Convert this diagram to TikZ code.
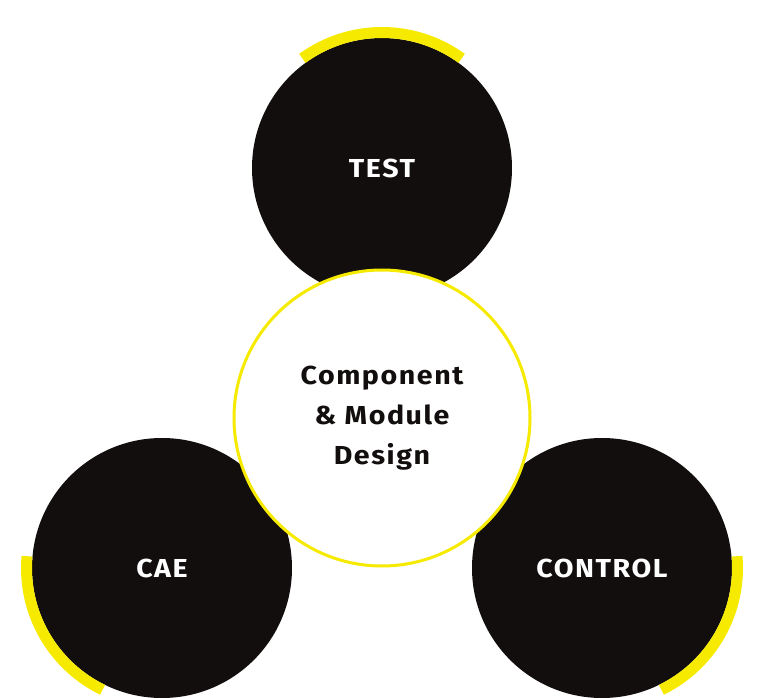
\documentclass[tikz,border=0pt]{standalone}
\usepackage{fontspec}
\setmainfont{Fira Sans}[UprightFont=* Bold,FakeStretch=1.1,LetterSpace=6]
\definecolor{dk}{HTML}{130E0E}
\definecolor{yl}{HTML}{F5EA00}
\begin{document}
\begin{tikzpicture}[x=1pt,y=-1pt,
  bigc/.style={circle,fill=dk,minimum size=260pt,inner sep=0pt,text=white,font=\fontsize{26}{30}\selectfont},
  midc/.style={circle,fill=white,draw=yl,line width=3pt,minimum size=296pt,inner sep=0pt,text=dk,align=center,font=\fontsize{26}{40}\selectfont},
  ring/.style={yl,line width=11pt}]
\useasboundingbox (0,0) rectangle (764,698);
\node[bigc] (test) at (382,168) {TEST};
\node[bigc] (cae) at (162,568) {CAE};
\node[bigc] (ctrl) at (602,568) {CONTROL};
\draw[ring] (test.center) ++(54:-135.5) arc[start angle=234,end angle=306,radius=135.5];
\draw[ring] ([shift={(185:135.5)}]cae.center) arc[start angle=185,end angle=116,radius=135.5];
\draw[ring] ([shift={(-5:135.5)}]ctrl.center) arc[start angle=-5,end angle=64,radius=135.5];
\node[midc] (mid) at (382,418) {Component\\\& Module\\Design};
\end{tikzpicture}
\end{document}
